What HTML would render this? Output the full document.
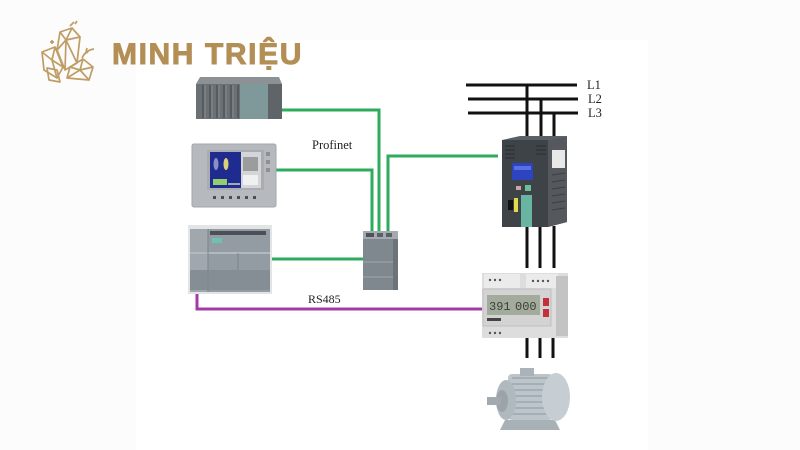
<!DOCTYPE html>
<html><head><meta charset="utf-8"><style>
html,body{margin:0;padding:0;background:#fcfcfc;}
svg{display:block;}
</style></head><body>
<svg width="800" height="450" viewBox="0 0 800 450" xmlns="http://www.w3.org/2000/svg">
<rect x="0" y="0" width="800" height="450" fill="#fcfcfc"/>
<rect x="136" y="40" width="512" height="410" fill="#ffffff"/>

<!-- Logo crystal -->
<g fill="none" stroke="#bf9d64" stroke-width="1.7" stroke-linejoin="round">
  <polygon points="60,32 72,28 80,37 77,63 65,70 57,50"/>
  <polyline points="60,32 66,40 72,28"/><polyline points="66,40 80,37"/><polyline points="66,40 65,70"/><polyline points="57,50 66,40"/><polyline points="66,40 77,63"/>
  <polygon points="42,52 55,47 63,67 57,78 44,70"/>
  <polyline points="42,52 52,60 55,47"/><polyline points="52,60 57,78"/><polyline points="52,60 63,67"/>
  <polygon points="47,68 57,70 60,82 49,80"/>
  <polygon points="70,67 83,59 93,67 89,80 67,78"/>
  <polyline points="70,67 80,70 83,59"/><polyline points="80,70 93,67"/><polyline points="80,70 89,80"/><polyline points="80,70 67,78"/>
  <path d="M82,58 Q86,50 94,49"/><path d="M84,54 l4,-2 M86,52 l1,-4"/>
  <path d="M70,26 l4,-4 M75,24 l2,-3"/>
  <path d="M52,40 l0,4 M50,42 l4,0"/>
</g>
<text x="112" y="64" font-family="'Liberation Sans', sans-serif" font-weight="bold" font-size="30" fill="#b38f56" stroke="#b38f56" stroke-width="0.9" letter-spacing="1.6">MINH TRIỆU</text>

<!-- Green profinet lines -->
<g fill="none" stroke="#2fab5e" stroke-width="3">
  <polyline points="281,110 379,110 379,231"/>
  <polyline points="276,170 372,170 372,231"/>
  <polyline points="498,156 388,156 388,231"/>
  <polyline points="271,259 364,259"/>
</g>
<!-- Purple RS485 -->
<polyline points="197,292 197,309 483,309" fill="none" stroke="#a43aa8" stroke-width="3"/>

<text x="312" y="149" font-family="'Liberation Serif', serif" font-size="12.5" fill="#222">Profinet</text>
<text x="308" y="303" font-family="'Liberation Serif', serif" font-size="12" fill="#222">RS485</text>

<!-- Power lines -->
<g stroke="#111" stroke-width="3" fill="none">
  <line x1="466" y1="85" x2="577" y2="85"/>
  <line x1="468" y1="99" x2="578" y2="99"/>
  <line x1="468" y1="113" x2="578" y2="113"/>
  <line x1="527" y1="85" x2="527" y2="137"/>
  <line x1="541" y1="99" x2="541" y2="137"/>
  <line x1="554" y1="113" x2="554" y2="137"/>
  <line x1="527" y1="226" x2="527" y2="268"/>
  <line x1="540" y1="226" x2="540" y2="268"/>
  <line x1="554" y1="226" x2="554" y2="268"/>
  <line x1="527" y1="337" x2="527" y2="358"/>
  <line x1="540" y1="337" x2="540" y2="358"/>
  <line x1="553" y1="337" x2="553" y2="358"/>
</g>
<g font-family="'Liberation Serif', serif" font-size="12.5" fill="#222">
  <text x="587" y="89">L1</text>
  <text x="588" y="103">L2</text>
  <text x="588" y="117">L3</text>
</g>

<!-- Rack S7-400 -->
<polygon points="200,77 279,77 282,84 196,84" fill="#8c9195"/>
<rect x="196" y="84" width="86" height="35" fill="#6b7075"/>
<g stroke="#4f5458" stroke-width="1.5">
  <line x1="203" y1="85" x2="203" y2="118"/><line x1="210" y1="85" x2="210" y2="118"/>
  <line x1="217" y1="85" x2="217" y2="118"/><line x1="224" y1="85" x2="224" y2="118"/>
  <line x1="231" y1="85" x2="231" y2="118"/><line x1="238" y1="85" x2="238" y2="118"/>
</g>
<g stroke="#878c90" stroke-width="1">
  <line x1="205" y1="85" x2="205" y2="118"/><line x1="212" y1="85" x2="212" y2="118"/>
  <line x1="219" y1="85" x2="219" y2="118"/><line x1="226" y1="85" x2="226" y2="118"/>
  <line x1="233" y1="85" x2="233" y2="118"/>
</g>
<rect x="240" y="84" width="28" height="35" fill="#7f9899"/>
<rect x="268" y="84" width="14" height="35" fill="#5f6468"/>

<!-- HMI -->
<rect x="192" y="144" width="84" height="63" rx="2" fill="#b6b9bd" stroke="#a2a6aa"/>
<rect x="207" y="150" width="57" height="40" fill="#a9adb1"/>
<rect x="210" y="152" width="31" height="36" fill="#1f2b8e"/>
<rect x="241" y="152" width="20" height="36" fill="#d4d5d6"/>
<rect x="243" y="157" width="15" height="14" fill="#9a9c9e"/>
<rect x="243" y="175" width="15" height="10" fill="#f0f0f0"/>
<ellipse cx="216" cy="164" rx="2.5" ry="6" fill="#8a8fc8"/>
<ellipse cx="226" cy="164" rx="2.5" ry="6" fill="#d9d07a"/>
<rect x="213" y="179" width="14" height="6" fill="#8fcf6c"/>
<rect x="228" y="183" width="12" height="2" fill="#9ab"/>
<g fill="#4a4f55">
  <rect x="213" y="196" width="3" height="3"/><rect x="221" y="196" width="3" height="3"/>
  <rect x="229" y="196" width="3" height="3"/><rect x="237" y="196" width="3" height="3"/>
  <rect x="245" y="196" width="3" height="3"/><rect x="253" y="196" width="3" height="3"/>
</g>
<g fill="#8d9196"><rect x="266" y="152" width="4" height="4"/><rect x="266" y="160" width="4" height="4"/><rect x="266" y="168" width="4" height="4"/></g>

<!-- PLC S7-1200 -->
<rect x="188" y="225" width="84" height="69" fill="#e2e4e6"/>
<rect x="190" y="229" width="80" height="63" fill="#939ca2"/>
<rect x="190" y="229" width="18" height="63" fill="#a0a8ae"/>
<rect x="210" y="231" width="56" height="4" fill="#4a5055"/>
<rect x="212" y="238" width="10" height="5" fill="#6fc0b0"/>
<rect x="190" y="252" width="80" height="2" fill="#b3babf"/>
<rect x="190" y="270" width="80" height="20" fill="#858e94"/>
<line x1="208" y1="229" x2="208" y2="292" stroke="#7d858b"/>
<line x1="238" y1="253" x2="238" y2="270" stroke="#7d858b"/>

<!-- Switch -->
<rect x="363" y="231" width="35" height="59" fill="#7f888f"/>
<rect x="363" y="231" width="35" height="8" fill="#a4abb0"/>
<rect x="366" y="233" width="8" height="4" fill="#4c5257"/>
<rect x="377" y="233" width="6" height="4" fill="#5a6065"/>
<rect x="386" y="233" width="6" height="4" fill="#5a6065"/>
<line x1="363" y1="262" x2="398" y2="262" stroke="#a0a7ac"/>
<line x1="363" y1="277" x2="398" y2="277" stroke="#a0a7ac"/>
<rect x="393" y="239" width="5" height="51" fill="#6c747a"/>

<!-- Drive -->
<polygon points="502,140 548,140 567,136 567,222 548,227 502,227" fill="#3e4347"/>
<polygon points="548,140 567,136 567,222 548,227" fill="#55595d"/>
<polygon points="502,140 548,140 567,136 520,136" fill="#5b6064"/>
<g stroke="#2a2e31" stroke-width="1">
  <line x1="505" y1="146" x2="515" y2="146"/><line x1="505" y1="150" x2="515" y2="150"/>
  <line x1="505" y1="154" x2="515" y2="154"/><line x1="505" y1="158" x2="515" y2="158"/>
  <line x1="536" y1="146" x2="546" y2="146"/><line x1="536" y1="150" x2="546" y2="150"/>
  <line x1="536" y1="154" x2="546" y2="154"/>
</g>
<rect x="512" y="163" width="21" height="17" fill="#2d44c0"/>
<rect x="514" y="166" width="17" height="4" fill="#5a70e0"/>
<rect x="516" y="186" width="5" height="4" fill="#c9a5a5"/>
<rect x="525" y="185" width="6" height="6" fill="#6dbf99"/>
<rect x="514" y="198" width="4" height="14" fill="#e1d84a"/>
<rect x="508" y="200" width="5" height="10" fill="#111"/>
<rect x="521" y="195" width="11" height="32" fill="#6ab4a2"/>
<rect x="552" y="150" width="13" height="18" fill="#e8e8e8"/>
<g stroke="#3b3f42" stroke-width="1">
  <line x1="552" y1="175" x2="565" y2="173"/><line x1="552" y1="182" x2="565" y2="180"/>
  <line x1="552" y1="189" x2="565" y2="187"/><line x1="552" y1="196" x2="565" y2="194"/>
  <line x1="552" y1="203" x2="565" y2="201"/><line x1="552" y1="210" x2="565" y2="208"/>
</g>

<!-- Energy meter -->
<rect x="482" y="273" width="86" height="65" fill="#dcdddc"/>
<rect x="484" y="274" width="36" height="14" fill="#ebebeb"/>
<rect x="526" y="274" width="32" height="14" fill="#ebebeb"/>
<g fill="#555"><circle cx="490" cy="280" r="1.2"/><circle cx="495" cy="280" r="1.2"/><circle cx="500" cy="280" r="1.2"/>
<circle cx="533" cy="281" r="1.2"/><circle cx="538" cy="281" r="1.2"/><circle cx="543" cy="281" r="1.2"/><circle cx="548" cy="281" r="1.2"/>
<circle cx="490" cy="333" r="1.2"/><circle cx="495" cy="333" r="1.2"/><circle cx="500" cy="333" r="1.2"/></g>
<rect x="483" y="289" width="68" height="37" fill="#d2d3d2" stroke="#bfc0bf"/>
<rect x="487" y="295" width="53" height="20" fill="#a3ab9d"/>
<text x="489" y="310" font-family="'Liberation Mono', monospace" font-size="12" fill="#3c3f3c">391</text>
<text x="515" y="310" font-family="'Liberation Mono', monospace" font-size="12" fill="#3c3f3c">000</text>
<rect x="543" y="298" width="6" height="8" fill="#c3303b"/>
<rect x="543" y="309" width="6" height="8" fill="#c3303b"/>
<rect x="487" y="318" width="14" height="3" fill="#444"/>
<rect x="556" y="276" width="12" height="60" fill="#c2c3c2"/>

<!-- Motor -->
<polygon points="505,420 555,420 560,430 500,430" fill="#a8b1b6"/>
<rect x="508" y="374" width="45" height="46" rx="4" fill="#bcc5ca"/>
<g stroke="#8e989e" stroke-width="1">
  <line x1="512" y1="378" x2="550" y2="378"/><line x1="512" y1="384" x2="550" y2="384"/>
  <line x1="512" y1="390" x2="550" y2="390"/><line x1="512" y1="396" x2="550" y2="396"/>
  <line x1="512" y1="402" x2="550" y2="402"/><line x1="512" y1="408" x2="550" y2="408"/>
  <line x1="512" y1="414" x2="550" y2="414"/>
</g>
<rect x="520" y="368" width="14" height="8" fill="#aab3b8"/>
<ellipse cx="556" cy="397" rx="14" ry="24" fill="#c6ced3"/>
<ellipse cx="506" cy="400" rx="10" ry="20" fill="#b0b9be"/>
<ellipse cx="502" cy="401" rx="6" ry="11" fill="#9ba4a9"/>
<rect x="487" y="397" width="14" height="8" fill="#a1aaaf"/>
</svg>
</body></html>
